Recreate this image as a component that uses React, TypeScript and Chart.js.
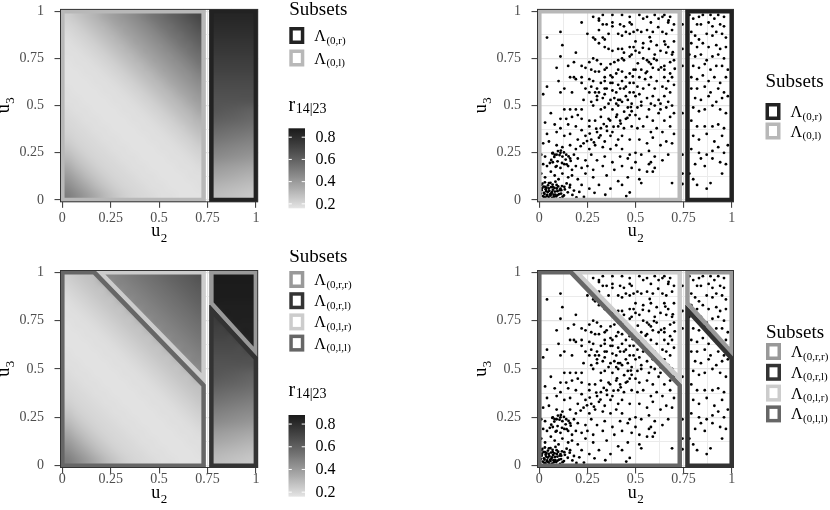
import React, { useEffect, useRef } from 'react';
import { Chart, registerables } from 'chart.js';

Chart.register(...registerables);

const SERIF = "'Liberation Serif', 'Times New Roman', Times, serif";

// ---------- axes ----------
const axisTicks = [0, 0.125, 0.25, 0.375, 0.5, 0.625, 0.75, 0.875, 1];
const axisTickLabels = ['0', '', '0.25', '', '0.5', '', '0.75', '', '1'];
const axisRange = [-0.012, 1.012];

// ---------- heat map r_{14|23} ----------
const leftBlockU2 = [0, 0.735];
const rightBlockU2 = [0.765, 1];
const leftBlockColumns = 15;
const heatRowsU3 = [0, 1];

const rTop: number[][] = [
  [0.23, 0.26, 0.29, 0.32, 0.36, 0.39, 0.42, 0.45, 0.49, 0.53, 0.56, 0.60, 0.63, 0.67, 0.70, 0.83, 0.83, 0.83, 0.83, 0.83],
  [0.21, 0.23, 0.26, 0.29, 0.32, 0.36, 0.39, 0.42, 0.45, 0.49, 0.53, 0.56, 0.60, 0.63, 0.67, 0.81, 0.81, 0.81, 0.81, 0.81],
  [0.19, 0.21, 0.23, 0.26, 0.29, 0.32, 0.36, 0.39, 0.42, 0.45, 0.49, 0.53, 0.56, 0.60, 0.63, 0.79, 0.79, 0.79, 0.79, 0.79],
  [0.18, 0.19, 0.21, 0.23, 0.26, 0.29, 0.32, 0.36, 0.39, 0.42, 0.45, 0.49, 0.53, 0.56, 0.60, 0.77, 0.77, 0.77, 0.77, 0.77],
  [0.18, 0.18, 0.19, 0.21, 0.23, 0.26, 0.29, 0.32, 0.36, 0.39, 0.42, 0.45, 0.49, 0.53, 0.56, 0.75, 0.75, 0.75, 0.75, 0.75],
  [0.17, 0.18, 0.18, 0.19, 0.21, 0.23, 0.26, 0.29, 0.32, 0.36, 0.39, 0.42, 0.45, 0.49, 0.53, 0.73, 0.73, 0.73, 0.73, 0.73],
  [0.17, 0.17, 0.18, 0.18, 0.19, 0.21, 0.23, 0.26, 0.29, 0.32, 0.36, 0.39, 0.42, 0.45, 0.49, 0.71, 0.71, 0.71, 0.71, 0.71],
  [0.17, 0.17, 0.17, 0.18, 0.18, 0.19, 0.21, 0.23, 0.26, 0.29, 0.32, 0.36, 0.39, 0.42, 0.45, 0.69, 0.69, 0.69, 0.69, 0.69],
  [0.18, 0.17, 0.17, 0.17, 0.18, 0.18, 0.19, 0.21, 0.23, 0.26, 0.29, 0.32, 0.36, 0.39, 0.42, 0.67, 0.67, 0.67, 0.67, 0.67],
  [0.18, 0.18, 0.17, 0.17, 0.17, 0.18, 0.18, 0.19, 0.21, 0.23, 0.26, 0.29, 0.32, 0.36, 0.39, 0.65, 0.65, 0.65, 0.65, 0.65],
  [0.19, 0.18, 0.18, 0.17, 0.17, 0.17, 0.18, 0.18, 0.19, 0.21, 0.23, 0.26, 0.29, 0.32, 0.36, 0.64, 0.63, 0.62, 0.61, 0.60],
  [0.20, 0.19, 0.18, 0.18, 0.17, 0.17, 0.17, 0.18, 0.18, 0.19, 0.21, 0.23, 0.26, 0.29, 0.32, 0.61, 0.60, 0.59, 0.58, 0.57],
  [0.21, 0.20, 0.19, 0.18, 0.18, 0.17, 0.17, 0.17, 0.18, 0.18, 0.19, 0.21, 0.23, 0.26, 0.29, 0.57, 0.56, 0.55, 0.54, 0.53],
  [0.23, 0.21, 0.20, 0.19, 0.18, 0.18, 0.17, 0.17, 0.17, 0.18, 0.18, 0.19, 0.21, 0.23, 0.26, 0.53, 0.52, 0.51, 0.50, 0.49],
  [0.26, 0.23, 0.21, 0.20, 0.19, 0.18, 0.18, 0.17, 0.17, 0.17, 0.18, 0.18, 0.19, 0.21, 0.23, 0.49, 0.48, 0.47, 0.46, 0.45],
  [0.30, 0.26, 0.23, 0.21, 0.20, 0.19, 0.18, 0.18, 0.17, 0.17, 0.17, 0.18, 0.18, 0.19, 0.21, 0.45, 0.44, 0.43, 0.42, 0.41],
  [0.35, 0.30, 0.26, 0.23, 0.21, 0.20, 0.19, 0.18, 0.18, 0.17, 0.17, 0.17, 0.18, 0.18, 0.19, 0.40, 0.39, 0.38, 0.37, 0.36],
  [0.40, 0.35, 0.30, 0.26, 0.23, 0.21, 0.20, 0.19, 0.18, 0.18, 0.17, 0.17, 0.17, 0.18, 0.18, 0.36, 0.35, 0.34, 0.33, 0.32],
  [0.45, 0.40, 0.35, 0.30, 0.26, 0.23, 0.21, 0.20, 0.19, 0.18, 0.18, 0.17, 0.17, 0.17, 0.18, 0.32, 0.31, 0.30, 0.29, 0.28],
  [0.50, 0.45, 0.40, 0.35, 0.30, 0.26, 0.23, 0.21, 0.20, 0.19, 0.18, 0.18, 0.17, 0.17, 0.17, 0.29, 0.28, 0.27, 0.26, 0.25],
];

const rBottom: number[][] = [
  [0.23, 0.25, 0.27, 0.29, 0.45, 0.47, 0.49, 0.51, 0.53, 0.55, 0.57, 0.59, 0.61, 0.63, 0.65, 0.88, 0.88, 0.88, 0.88, 0.88],
  [0.21, 0.23, 0.25, 0.27, 0.29, 0.45, 0.47, 0.49, 0.51, 0.53, 0.55, 0.57, 0.59, 0.61, 0.63, 0.87, 0.87, 0.87, 0.87, 0.87],
  [0.19, 0.21, 0.23, 0.25, 0.27, 0.29, 0.45, 0.47, 0.49, 0.51, 0.53, 0.55, 0.57, 0.59, 0.61, 0.87, 0.87, 0.87, 0.87, 0.87],
  [0.18, 0.19, 0.21, 0.23, 0.25, 0.27, 0.29, 0.45, 0.47, 0.49, 0.51, 0.53, 0.55, 0.57, 0.59, 0.86, 0.86, 0.86, 0.86, 0.86],
  [0.18, 0.18, 0.19, 0.21, 0.23, 0.25, 0.27, 0.29, 0.45, 0.47, 0.49, 0.51, 0.53, 0.55, 0.57, 0.75, 0.86, 0.86, 0.86, 0.86],
  [0.17, 0.18, 0.18, 0.19, 0.21, 0.23, 0.25, 0.27, 0.29, 0.45, 0.47, 0.49, 0.51, 0.53, 0.55, 0.73, 0.73, 0.85, 0.85, 0.85],
  [0.17, 0.17, 0.18, 0.18, 0.19, 0.21, 0.23, 0.25, 0.27, 0.29, 0.45, 0.47, 0.49, 0.51, 0.53, 0.71, 0.71, 0.71, 0.85, 0.85],
  [0.17, 0.17, 0.17, 0.18, 0.18, 0.19, 0.21, 0.23, 0.25, 0.27, 0.29, 0.45, 0.47, 0.49, 0.51, 0.69, 0.69, 0.69, 0.69, 0.84],
  [0.18, 0.17, 0.17, 0.17, 0.18, 0.18, 0.19, 0.21, 0.23, 0.25, 0.27, 0.29, 0.45, 0.47, 0.49, 0.67, 0.67, 0.67, 0.67, 0.67],
  [0.18, 0.18, 0.17, 0.17, 0.17, 0.18, 0.18, 0.19, 0.21, 0.23, 0.25, 0.27, 0.29, 0.45, 0.47, 0.65, 0.65, 0.65, 0.65, 0.65],
  [0.19, 0.18, 0.18, 0.17, 0.17, 0.17, 0.18, 0.18, 0.19, 0.21, 0.23, 0.25, 0.27, 0.29, 0.45, 0.64, 0.63, 0.62, 0.61, 0.60],
  [0.20, 0.19, 0.18, 0.18, 0.17, 0.17, 0.17, 0.18, 0.18, 0.19, 0.21, 0.23, 0.25, 0.27, 0.29, 0.61, 0.60, 0.59, 0.58, 0.57],
  [0.21, 0.20, 0.19, 0.18, 0.18, 0.17, 0.17, 0.17, 0.18, 0.18, 0.19, 0.21, 0.23, 0.25, 0.27, 0.57, 0.56, 0.55, 0.54, 0.53],
  [0.23, 0.21, 0.20, 0.19, 0.18, 0.18, 0.17, 0.17, 0.17, 0.18, 0.18, 0.19, 0.21, 0.23, 0.25, 0.53, 0.52, 0.51, 0.50, 0.49],
  [0.26, 0.23, 0.21, 0.20, 0.19, 0.18, 0.18, 0.17, 0.17, 0.17, 0.18, 0.18, 0.19, 0.21, 0.23, 0.49, 0.48, 0.47, 0.46, 0.45],
  [0.30, 0.26, 0.23, 0.21, 0.20, 0.19, 0.18, 0.18, 0.17, 0.17, 0.17, 0.18, 0.18, 0.19, 0.21, 0.45, 0.44, 0.43, 0.42, 0.41],
  [0.35, 0.30, 0.26, 0.23, 0.21, 0.20, 0.19, 0.18, 0.18, 0.17, 0.17, 0.17, 0.18, 0.18, 0.19, 0.40, 0.39, 0.38, 0.37, 0.36],
  [0.40, 0.35, 0.30, 0.26, 0.23, 0.21, 0.20, 0.19, 0.18, 0.18, 0.17, 0.17, 0.17, 0.18, 0.18, 0.36, 0.35, 0.34, 0.33, 0.32],
  [0.45, 0.40, 0.35, 0.30, 0.26, 0.23, 0.21, 0.20, 0.19, 0.18, 0.18, 0.17, 0.17, 0.17, 0.18, 0.32, 0.31, 0.30, 0.29, 0.28],
  [0.50, 0.45, 0.40, 0.35, 0.30, 0.26, 0.23, 0.21, 0.20, 0.19, 0.18, 0.18, 0.17, 0.17, 0.17, 0.29, 0.28, 0.27, 0.26, 0.25],
];

const colourbarLimits = [0.16, 0.88];
const colourbarBreaks = [0.2, 0.4, 0.6, 0.8];
const colourbarLabels = ['0.2', '0.4', '0.6', '0.8'];

// ---------- subsets (polygons in u2/u3 units) ----------
const lambda0r: [number, number][] = [[0.77, 0], [1, 0], [1, 1], [0.77, 1], [0.77, 0]];
const lambda0l: [number, number][] = [[0, 0], [0.73, 0], [0.73, 1], [0, 1], [0, 0]];
const lambda0rr: [number, number][] = [[1, 1], [1, 0.585], [0.77, 0.84], [0.77, 1], [1, 1]];
const lambda0rl: [number, number][] = [[0.77, 0], [1, 0], [1, 0.555], [0.77, 0.805], [0.77, 0]];
const lambda0lr: [number, number][] = [[0.73, 1], [0.73, 0.45], [0.195, 1], [0.73, 1]];
const lambda0ll: [number, number][] = [[0, 0], [0.73, 0], [0.73, 0.415], [0.165, 1], [0, 1], [0, 0]];

const topSubsetLabels = ['(0,r)', '(0,l)'];
const bottomSubsetLabels = ['(0,r,r)', '(0,r,l)', '(0,l,r)', '(0,l,l)'];

// ---------- sample (u2, u3) ----------
const samplePoints: [number, number][] = [
  [0.28, 0.97], [0.31, 0.96], [0.31, 0.95], [0.33, 0.98], [0.33, 0.93], [0.35, 0.93], [0.38, 0.98], [0.38, 0.94],
  [0.43, 0.98], [0.42, 0.93], [0.44, 0.92], [0.47, 0.97], [0.47, 0.94], [0.48, 0.93], [0.22, 0.94], [0.11, 0.89],
  [0.04, 0.86], [0.25, 0.88], [0.28, 0.86], [0.29, 0.85], [0.31, 0.90], [0.33, 0.86], [0.34, 0.85], [0.36, 0.88],
  [0.38, 0.92], [0.41, 0.88], [0.43, 0.87], [0.45, 0.89], [0.47, 0.88], [0.49, 0.89], [0.12, 0.82], [0.31, 0.83],
  [0.34, 0.81], [0.36, 0.80], [0.38, 0.79], [0.41, 0.80], [0.43, 0.80], [0.44, 0.78], [0.47, 0.81], [0.49, 0.81],
  [0.11, 0.76], [0.18, 0.73], [0.26, 0.73], [0.28, 0.75], [0.30, 0.74], [0.32, 0.72], [0.34, 0.69], [0.35, 0.70],
  [0.37, 0.72], [0.39, 0.73], [0.41, 0.74], [0.43, 0.75], [0.44, 0.74], [0.47, 0.76], [0.48, 0.77], [0.09, 0.70],
  [0.15, 0.71], [0.22, 0.71], [0.24, 0.70], [0.27, 0.69], [0.29, 0.68], [0.31, 0.68], [0.34, 0.65], [0.37, 0.66],
  [0.38, 0.65], [0.40, 0.67], [0.41, 0.69], [0.43, 0.68], [0.45, 0.65], [0.47, 0.67], [0.49, 0.69], [0.16, 0.65],
  [0.18, 0.65], [0.19, 0.64], [0.22, 0.65], [0.26, 0.64], [0.28, 0.63], [0.32, 0.62], [0.34, 0.63], [0.37, 0.62],
  [0.38, 0.62], [0.41, 0.61], [0.43, 0.63], [0.45, 0.60], [0.47, 0.62], [0.49, 0.62], [0.10, 0.63], [0.04, 0.60],
  [0.13, 0.59], [0.22, 0.62], [0.24, 0.59], [0.27, 0.60], [0.30, 0.59], [0.29, 0.57], [0.31, 0.57], [0.34, 0.59],
  [0.35, 0.59], [0.38, 0.58], [0.40, 0.57], [0.42, 0.59], [0.44, 0.59], [0.47, 0.57], [0.49, 0.57], [0.02, 0.56],
  [0.11, 0.57], [0.17, 0.57], [0.26, 0.57], [0.30, 0.55], [0.33, 0.54], [0.34, 0.56], [0.37, 0.53], [0.39, 0.54],
  [0.41, 0.53], [0.43, 0.52], [0.46, 0.53], [0.48, 0.51], [0.23, 0.53], [0.27, 0.52], [0.30, 0.53], [0.36, 0.51],
  [0.40, 0.51], [0.42, 0.53], [0.45, 0.55], [0.19, 0.78],
  [0.52, 0.98], [0.54, 0.96], [0.56, 0.97], [0.58, 0.94], [0.60, 0.98], [0.62, 0.96], [0.64, 0.97], [0.65, 0.98],
  [0.67, 0.94], [0.68, 0.97], [0.70, 0.93], [0.51, 0.90], [0.53, 0.89], [0.56, 0.90], [0.59, 0.89], [0.64, 0.89],
  [0.66, 0.88], [0.69, 0.90], [0.50, 0.84], [0.54, 0.83], [0.58, 0.84], [0.61, 0.82], [0.65, 0.84], [0.67, 0.81],
  [0.70, 0.84], [0.50, 0.79], [0.52, 0.78], [0.57, 0.80], [0.60, 0.77], [0.63, 0.79], [0.66, 0.78], [0.69, 0.77],
  [0.54, 0.75], [0.56, 0.74], [0.57, 0.73], [0.58, 0.72], [0.61, 0.74], [0.65, 0.71], [0.68, 0.73], [0.70, 0.74],
  [0.50, 0.69], [0.53, 0.69], [0.56, 0.68], [0.59, 0.70], [0.62, 0.69], [0.65, 0.69], [0.68, 0.67], [0.52, 0.65],
  [0.55, 0.64], [0.58, 0.65], [0.61, 0.63], [0.65, 0.65], [0.67, 0.63], [0.69, 0.65], [0.51, 0.60], [0.54, 0.59],
  [0.57, 0.61], [0.60, 0.59], [0.64, 0.60], [0.66, 0.59], [0.70, 0.61], [0.50, 0.55], [0.52, 0.56], [0.56, 0.54],
  [0.59, 0.55], [0.62, 0.53], [0.65, 0.55], [0.68, 0.57], [0.53, 0.52], [0.58, 0.51], [0.63, 0.51], [0.67, 0.52],
  [0.512, 0.724], [0.538, 0.806], [0.553, 0.672], [0.574, 0.862], [0.596, 0.748], [0.618, 0.915], [0.633, 0.702],
  [0.655, 0.823], [0.672, 0.951], [0.694, 0.783], [0.704, 0.695], [0.486, 0.654],
  [0.78, 0.98], [0.80, 0.96], [0.83, 0.97], [0.85, 0.98], [0.89, 0.98], [0.91, 0.96], [0.93, 0.98], [0.96, 0.97],
  [0.82, 0.93], [0.84, 0.93], [0.88, 0.94], [0.90, 0.92], [0.94, 0.93], [0.96, 0.92], [0.79, 0.89], [0.81, 0.87],
  [0.83, 0.85], [0.87, 0.88], [0.90, 0.87], [0.92, 0.89], [0.95, 0.88], [0.97, 0.86], [0.79, 0.83], [0.82, 0.81],
  [0.85, 0.83], [0.88, 0.81], [0.92, 0.82], [0.94, 0.80], [0.97, 0.81], [0.78, 0.77], [0.81, 0.76], [0.84, 0.77],
  [0.87, 0.74], [0.90, 0.76], [0.93, 0.77], [0.96, 0.75], [0.80, 0.71], [0.83, 0.70], [0.86, 0.72], [0.89, 0.69],
  [0.92, 0.71], [0.95, 0.71], [0.98, 0.69], [0.79, 0.65], [0.82, 0.64], [0.85, 0.66], [0.88, 0.63], [0.91, 0.65],
  [0.94, 0.62], [0.97, 0.65], [0.79, 0.59], [0.82, 0.59], [0.86, 0.60], [0.89, 0.57], [0.93, 0.59], [0.96, 0.57],
  [0.81, 0.54], [0.84, 0.53], [0.88, 0.55], [0.92, 0.52], [0.95, 0.54], [0.98, 0.55],
  [0.13, 0.48], [0.16, 0.48], [0.19, 0.48], [0.22, 0.48], [0.28, 0.50], [0.32, 0.48], [0.34, 0.49], [0.38, 0.48],
  [0.41, 0.50], [0.46, 0.49], [0.48, 0.47], [0.06, 0.46], [0.11, 0.43], [0.14, 0.43], [0.17, 0.44], [0.20, 0.45],
  [0.22, 0.43], [0.26, 0.42], [0.29, 0.42], [0.32, 0.44], [0.36, 0.43], [0.40, 0.44], [0.42, 0.42], [0.45, 0.43],
  [0.47, 0.45], [0.03, 0.41], [0.08, 0.40], [0.11, 0.38], [0.15, 0.40], [0.19, 0.39], [0.22, 0.37], [0.26, 0.39],
  [0.30, 0.36], [0.32, 0.38], [0.35, 0.39], [0.38, 0.36], [0.41, 0.39], [0.44, 0.38], [0.48, 0.39], [0.04, 0.35],
  [0.09, 0.36], [0.13, 0.34], [0.16, 0.35], [0.20, 0.32], [0.24, 0.34], [0.27, 0.32], [0.31, 0.33], [0.34, 0.31],
  [0.37, 0.34], [0.41, 0.32], [0.43, 0.34], [0.47, 0.32], [0.02, 0.30], [0.05, 0.31], [0.09, 0.29], [0.12, 0.28],
  [0.16, 0.29], [0.19, 0.27], [0.23, 0.30], [0.26, 0.27], [0.29, 0.29], [0.33, 0.28], [0.37, 0.27], [0.40, 0.29],
  [0.43, 0.27], [0.47, 0.24], [0.01, 0.24], [0.03, 0.23], [0.07, 0.25], [0.08, 0.24], [0.09, 0.24], [0.11, 0.25],
  [0.12, 0.23], [0.14, 0.24], [0.16, 0.22], [0.18, 0.24], [0.20, 0.22], [0.24, 0.21], [0.27, 0.24], [0.30, 0.21],
  [0.34, 0.23], [0.38, 0.20], [0.42, 0.23], [0.46, 0.22], [0.02, 0.19], [0.04, 0.18], [0.07, 0.20], [0.09, 0.18],
  [0.11, 0.17], [0.13, 0.19], [0.15, 0.18], [0.17, 0.16], [0.19, 0.18], [0.22, 0.17], [0.25, 0.18], [0.28, 0.16],
  [0.33, 0.18], [0.39, 0.16], [0.43, 0.18], [0.48, 0.17], [0.01, 0.14], [0.03, 0.12], [0.06, 0.15], [0.08, 0.13],
  [0.10, 0.11], [0.12, 0.14], [0.15, 0.12], [0.17, 0.13], [0.20, 0.11], [0.24, 0.14], [0.28, 0.12], [0.35, 0.13],
  [0.41, 0.10], [0.46, 0.12], [0.01, 0.08], [0.03, 0.07], [0.05, 0.09], [0.07, 0.07], [0.09, 0.08], [0.11, 0.06],
  [0.13, 0.07], [0.16, 0.08], [0.18, 0.05], [0.22, 0.08], [0.26, 0.06], [0.31, 0.08], [0.37, 0.06], [0.43, 0.08],
  [0.47, 0.04],
  [0.062, 0.212], [0.078, 0.228], [0.095, 0.205], [0.105, 0.238], [0.118, 0.196], [0.128, 0.252], [0.137, 0.214],
  [0.152, 0.231], [0.085, 0.176], [0.068, 0.247], [0.112, 0.262], [0.142, 0.189], [0.163, 0.207], [0.097, 0.259],
  [0.055, 0.196],
  [0.215, 0.285], [0.248, 0.312], [0.262, 0.352], [0.284, 0.305], [0.296, 0.378], [0.318, 0.342], [0.335, 0.402],
  [0.352, 0.366], [0.368, 0.421], [0.386, 0.388], [0.404, 0.452], [0.423, 0.405], [0.441, 0.468], [0.458, 0.435],
  [0.476, 0.492],
  [0.012, 0.052], [0.024, 0.038], [0.033, 0.057], [0.041, 0.027], [0.052, 0.049], [0.063, 0.036], [0.071, 0.055],
  [0.083, 0.029], [0.094, 0.047], [0.103, 0.031], [0.114, 0.052], [0.121, 0.018], [0.148, 0.041], [0.172, 0.027],
  [0.208, 0.043], [0.232, 0.016], [0.287, 0.038], [0.343, 0.028], [0.452, 0.021], [0.018, 0.021], [0.031, 0.012],
  [0.048, 0.017], [0.067, 0.011], [0.088, 0.019], [0.108, 0.009], [0.193, 0.014], [0.037, 0.066], [0.058, 0.024],
  [0.022, 0.071], [0.053, 0.006], [0.079, 0.064], [0.027, 0.032], [0.074, 0.028], [0.008, 0.034], [0.044, 0.042],
  [0.061, 0.068], [0.098, 0.072],
  [0.016, 0.087], [0.029, 0.094], [0.045, 0.078], [0.058, 0.091], [0.069, 0.082], [0.084, 0.097], [0.014, 0.062],
  [0.036, 0.047], [0.049, 0.061], [0.066, 0.043], [0.081, 0.045], [0.091, 0.061], [0.106, 0.052], [0.118, 0.074],
  [0.133, 0.056], [0.142, 0.088], [0.158, 0.067], [0.026, 0.015], [0.039, 0.022], [0.057, 0.031], [0.076, 0.018],
  [0.095, 0.026], [0.113, 0.034], [0.128, 0.024],
  [0.51, 0.49], [0.53, 0.50], [0.57, 0.48], [0.60, 0.50], [0.63, 0.48], [0.66, 0.49], [0.69, 0.50], [0.50, 0.45],
  [0.52, 0.43], [0.56, 0.44], [0.59, 0.42], [0.62, 0.46], [0.65, 0.42], [0.68, 0.44], [0.70, 0.46], [0.51, 0.38],
  [0.54, 0.39], [0.58, 0.36], [0.61, 0.38], [0.64, 0.36], [0.68, 0.39], [0.70, 0.35], [0.52, 0.32], [0.56, 0.30],
  [0.59, 0.33], [0.63, 0.29], [0.66, 0.31], [0.69, 0.30], [0.50, 0.25], [0.53, 0.24], [0.57, 0.26], [0.57, 0.19],
  [0.58, 0.20], [0.60, 0.23], [0.64, 0.21], [0.67, 0.24], [0.52, 0.16], [0.56, 0.15], [0.60, 0.17], [0.52, 0.11],
  [0.53, 0.09], [0.69, 0.09], [0.50, 0.20], [0.59, 0.15],
  [0.80, 0.49], [0.83, 0.47], [0.86, 0.48], [0.90, 0.50], [0.94, 0.48], [0.97, 0.46], [0.79, 0.42], [0.82, 0.39],
  [0.86, 0.39], [0.90, 0.39], [0.93, 0.40], [0.96, 0.38], [0.80, 0.34], [0.83, 0.32], [0.87, 0.35], [0.91, 0.31],
  [0.95, 0.34], [0.98, 0.29], [0.79, 0.27], [0.83, 0.25], [0.87, 0.24], [0.90, 0.26], [0.93, 0.28], [0.96, 0.25],
  [0.81, 0.19], [0.84, 0.22], [0.86, 0.18], [0.90, 0.22], [0.94, 0.20], [0.97, 0.19], [0.78, 0.14], [0.80, 0.11],
  [0.82, 0.08], [0.87, 0.06], [0.89, 0.09], [0.95, 0.14],
  [0.744, 0.93], [0.744, 0.80], [0.744, 0.71], [0.744, 0.46], [0.744, 0.24], [0.744, 0.14], [0.744, 0.085],
];

// ---------- styles ----------
const COL_R = '#222222';
const COL_L = '#b8b8b8';
const COL_RR = '#999999';
const COL_RL = '#333333';
const COL_LR = '#cccccc';
const COL_LL = '#666666';

function hexLightness(hex: string) {
  const g = parseInt(hex.slice(1, 3), 16) / 255;
  const lin = g <= 0.04045 ? g / 12.92 : Math.pow((g + 0.055) / 1.055, 2.4);
  return lin > 0.008856 ? 116 * Math.cbrt(lin) - 16 : 903.3 * lin;
}
const L_LOW = hexLightness('#e5e5e5');
const L_HIGH = hexLightness('#1a1a1a');

function grayFor(v: number) {
  const t = Math.max(0, Math.min(1, (v - colourbarLimits[0]) / (colourbarLimits[1] - colourbarLimits[0])));
  const L = L_LOW + (L_HIGH - L_LOW) * t;
  const Y = L > 8 ? Math.pow((L + 16) / 116, 3) : L / 903.3;
  const s = Y <= 0.0031308 ? 12.92 * Y : 1.055 * Math.pow(Y, 1 / 2.4) - 0.055;
  return Math.round(Math.max(0, Math.min(1, s)) * 255);
}
function fillFor(v: number) {
  const g = grayFor(v);
  return `rgb(${g},${g},${g})`;
}

function drawSub(ctx: CanvasRenderingContext2D, x: number, y: number, main: string, sub: string,
  mainSize: number, subSize: number, dy: number, color: string) {
  ctx.fillStyle = color;
  ctx.textAlign = 'left';
  ctx.textBaseline = 'alphabetic';
  ctx.font = `${mainSize}px ${SERIF}`;
  ctx.fillText(main, x, y);
  const w = ctx.measureText(main).width;
  ctx.font = `${subSize}px ${SERIF}`;
  ctx.fillText(sub, x + w + 0.5, y + dy);
}

type SubsetLegend = { x: number; titleY: number; keyTop: number; keyStep: number; labels: string[]; colors: string[] };
type BarLegend = { x: number; titleY: number; barTop: number; barBottom: number };

type PanelCfg = {
  left: number; top: number; width: number; height: number;
  padding: { left: number; right: number; top: number; bottom: number };
  xLabelPad: number; xTitleOffset: number;
  heat?: number[][];
  points?: boolean;
  polys: { pts: [number, number][]; color: string }[];
  legend: SubsetLegend;
  bar?: BarLegend;
};

const KEY_W = 15;
const KEY_H = 17;

function drawSubsetLegend(ctx: CanvasRenderingContext2D, ox: number, oy: number, lg: SubsetLegend) {
  ctx.save();
  ctx.fillStyle = '#000';
  ctx.font = `19px ${SERIF}`;
  ctx.textAlign = 'left';
  ctx.textBaseline = 'alphabetic';
  ctx.fillText('Subsets', lg.x - ox, lg.titleY - oy);
  lg.labels.forEach((lab, i) => {
    const x = lg.x - ox;
    const y = lg.keyTop + i * lg.keyStep - oy;
    ctx.fillStyle = '#ffffff';
    ctx.fillRect(x, y, KEY_W, KEY_H);
    ctx.strokeStyle = lg.colors[i];
    ctx.lineWidth = 3.5;
    ctx.strokeRect(x + 1.75, y + 1.75, KEY_W - 3.5, KEY_H - 3.5);
    drawSub(ctx, x + 25, y + KEY_H / 2 + 5.5, '\u039B', lab, 16, 11, 2.5, '#000');
  });
  ctx.restore();
}

function drawBarLegend(ctx: CanvasRenderingContext2D, ox: number, oy: number, lg: BarLegend) {
  ctx.save();
  drawSub(ctx, lg.x - ox, lg.titleY - oy, 'r', '14|23', 20, 14, 2, '#000');
  const x = lg.x - ox;
  const top = lg.barTop - oy;
  const bot = lg.barBottom - oy;
  const w = 16.5;
  const [lo, hi] = colourbarLimits;
  const grad = ctx.createLinearGradient(0, bot, 0, top);
  for (let i = 0; i <= 20; i++) {
    const v = lo + (hi - lo) * (i / 20);
    grad.addColorStop(i / 20, fillFor(v));
  }
  ctx.fillStyle = grad;
  ctx.fillRect(x, top, w, bot - top);
  colourbarBreaks.forEach((b, i) => {
    const y = bot - ((b - lo) / (hi - lo)) * (bot - top);
    ctx.strokeStyle = '#ffffff';
    ctx.lineWidth = 1;
    ctx.beginPath();
    ctx.moveTo(x, y); ctx.lineTo(x + 3.3, y);
    ctx.moveTo(x + w - 3.3, y); ctx.lineTo(x + w, y);
    ctx.stroke();
    ctx.fillStyle = '#000';
    ctx.font = `16px ${SERIF}`;
    ctx.textBaseline = 'middle';
    ctx.textAlign = 'left';
    ctx.fillText(colourbarLabels[i], x + 27, y + 0.5);
  });
  ctx.restore();
}

// each subset block of the r-grid is painted as one raster placed through the scales
function drawHeat(chart: any, grid: number[][]) {
  const { ctx, chartArea, scales } = chart;
  const xs = scales.x;
  const ys = scales.y;
  ctx.save();
  ctx.beginPath();
  ctx.rect(chartArea.left, chartArea.top, chartArea.right - chartArea.left, chartArea.bottom - chartArea.top);
  ctx.clip();
  const nCols = grid[0].length;
  const blocks = [
    { c0: 0, c1: leftBlockColumns, ext: leftBlockU2 },
    { c0: leftBlockColumns, c1: nCols, ext: rightBlockU2 },
  ];
  const yTop = ys.getPixelForValue(heatRowsU3[1]);
  const yBot = ys.getPixelForValue(heatRowsU3[0]);
  blocks.forEach((b) => {
    const w = b.c1 - b.c0;
    const h = grid.length;
    const off = document.createElement('canvas');
    off.width = w;
    off.height = h;
    const octx = off.getContext('2d')!;
    const img = octx.createImageData(w, h);
    for (let r = 0; r < h; r++) {
      for (let c = 0; c < w; c++) {
        const g = grayFor(grid[r][b.c0 + c]);
        const k = (r * w + c) * 4;
        img.data[k] = g; img.data[k + 1] = g; img.data[k + 2] = g; img.data[k + 3] = 255;
      }
    }
    octx.putImageData(img, 0, 0);
    const x0 = xs.getPixelForValue(b.ext[0]);
    const x1 = xs.getPixelForValue(b.ext[1]);
    ctx.imageSmoothingEnabled = true;
    ctx.imageSmoothingQuality = 'high';
    ctx.drawImage(off, x0, yTop, x1 - x0, yBot - yTop);
  });
  ctx.restore();
}

function drawTitle(ctx: CanvasRenderingContext2D, cx: number, baseline: number, sub: string) {
  ctx.font = `18px ${SERIF}`;
  const wm = ctx.measureText('u').width;
  ctx.font = `13px ${SERIF}`;
  const ws = ctx.measureText(sub).width;
  drawSub(ctx, cx - (wm + ws) / 2, baseline, 'u', sub, 18, 13, 5.5, '#000');
}

function labelFor(v: number) {
  const i = axisTicks.findIndex((t) => Math.abs(t - v) < 1e-6);
  return i >= 0 ? axisTickLabels[i] : '';
}
function isMajor(v: number) {
  return labelFor(v) !== '';
}

function makeScale(axis: 'x' | 'y', labelPad: number) {
  return {
    type: 'linear' as const,
    min: axisRange[0],
    max: axisRange[1],
    afterBuildTicks: (s: any) => { s.ticks = axisTicks.map((v) => ({ value: v })); },
    afterFit: (s: any) => { if (axis === 'x') s.height = 25; else s.width = 60; },
    ticks: {
      autoSkip: false,
      maxRotation: 0,
      minRotation: 0,
      padding: labelPad,
      color: '#4d4d4d',
      font: { family: SERIF, size: 14 },
      callback: (v: any) => labelFor(Number(v)),
    },
    grid: {
      color: (c: any) => (c.tick && isMajor(c.tick.value) ? '#e3e3e3' : '#ebebeb'),
      lineWidth: (c: any) => (c.tick && isMajor(c.tick.value) ? 1.2 : 1),
      tickColor: (c: any) => (c.tick && isMajor(c.tick.value) ? '#333333' : 'rgba(0,0,0,0)'),
      tickLength: 5.5,
      tickWidth: 1,
      drawTicks: true,
    },
    border: { display: false },
  };
}

function Panel({ cfg }: { cfg: PanelCfg }) {
  const ref = useRef<HTMLCanvasElement | null>(null);
  useEffect(() => {
    if (!ref.current) return;
    const datasets: any[] = [];
    cfg.polys.forEach((p) => {
      datasets.push({
        data: p.pts.map(([x, y]) => ({ x, y })),
        showLine: true,
        borderColor: p.color,
        borderWidth: 4.5,
        borderJoinStyle: 'miter',
        borderCapStyle: 'square',
        pointRadius: 0,
        fill: false,
        tension: 0,
        order: 0,
      });
    });
    if (cfg.points) {
      datasets.push({
        data: samplePoints.map(([x, y]) => ({ x, y })),
        pointRadius: 1.4,
        pointBackgroundColor: '#000000',
        pointBorderWidth: 0,
        showLine: false,
        order: 1,
      });
    }
    const plugin = {
      id: 'panelDecor',
      beforeDatasetsDraw(chart: any) {
        if (cfg.heat) drawHeat(chart, cfg.heat);
      },
      afterDatasetsDraw(chart: any) {
        const { ctx, chartArea: a } = chart;
        ctx.save();
        ctx.strokeStyle = '#333333';
        ctx.lineWidth = 1;
        ctx.strokeRect(a.left + 0.5, a.top + 0.5, a.right - a.left - 1, a.bottom - a.top - 1);
        ctx.restore();
      },
      afterDraw(chart: any) {
        const { ctx, chartArea: a } = chart;
        ctx.save();
        drawTitle(ctx, (a.left + a.right) / 2, a.bottom + cfg.xTitleOffset, '2');
        ctx.translate(a.left - 51.5, (a.top + a.bottom) / 2);
        ctx.rotate(-Math.PI / 2);
        drawTitle(ctx, 0, 0, '3');
        ctx.restore();
        drawSubsetLegend(ctx, cfg.left, cfg.top, cfg.legend);
        if (cfg.bar) drawBarLegend(ctx, cfg.left, cfg.top, cfg.bar);
      },
    };
    const chart = new Chart(ref.current, {
      type: 'scatter',
      data: { datasets },
      options: {
        responsive: false,
        animation: false,
        devicePixelRatio: 1,
        events: [],
        layout: { padding: cfg.padding },
        plugins: { legend: { display: false }, tooltip: { enabled: false }, title: { display: false } },
        scales: { x: makeScale('x', cfg.xLabelPad), y: makeScale('y', 10.5) },
      } as any,
      plugins: [plugin],
    });
    return () => chart.destroy();
  }, [cfg]);
  return (
    <canvas
      ref={ref}
      width={cfg.width}
      height={cfg.height}
      style={{ position: 'absolute', left: cfg.left, top: cfg.top, width: cfg.width, height: cfg.height }}
    />
  );
}

const topPolys = [
  { pts: lambda0l, color: COL_L },
  { pts: lambda0r, color: COL_R },
];
const bottomPolys = [
  { pts: lambda0ll, color: COL_LL },
  { pts: lambda0lr, color: COL_LR },
  { pts: lambda0rl, color: COL_RL },
  { pts: lambda0rr, color: COL_RR },
];

const panels: PanelCfg[] = [
  {
    left: 0, top: -10, width: 415, height: 260,
    padding: { left: 0, right: 156.8, top: 13.9, bottom: 22.7 },
    xLabelPad: 2.2, xTitleOffset: 33.7,
    heat: rTop, polys: topPolys,
    legend: { x: 289.3, titleY: 14.5, keyTop: 27, keyStep: 22.5, labels: topSubsetLabels, colors: [COL_R, COL_L] },
    bar: { x: 288.5, titleY: 111, barTop: 128.3, barBottom: 208.3 },
  },
  {
    left: 415, top: -10, width: 415, height: 260,
    padding: { left: 62, right: 96, top: 13.9, bottom: 22.7 },
    xLabelPad: 2.2, xTitleOffset: 33.7,
    points: true, polys: topPolys,
    legend: { x: 765.5, titleY: 86.5, keyTop: 103, keyStep: 19.5, labels: topSubsetLabels, colors: [COL_R, COL_L] },
  },
  {
    left: 0, top: 250, width: 415, height: 260,
    padding: { left: 0, right: 156.8, top: 20, bottom: 17 },
    xLabelPad: -2.5, xTitleOffset: 29.5,
    heat: rBottom, polys: bottomPolys,
    legend: { x: 289.3, titleY: 261.5, keyTop: 271, keyStep: 21.2, labels: bottomSubsetLabels, colors: [COL_RR, COL_RL, COL_LR, COL_LL] },
    bar: { x: 288.5, titleY: 395.5, barTop: 415, barBottom: 496.7 },
  },
  {
    left: 415, top: 250, width: 415, height: 260,
    padding: { left: 62, right: 96, top: 20, bottom: 17 },
    xLabelPad: -2.5, xTitleOffset: 29.5,
    points: true, polys: bottomPolys,
    legend: { x: 766, titleY: 337.5, keyTop: 343, keyStep: 20.8, labels: bottomSubsetLabels, colors: [COL_RR, COL_RL, COL_LR, COL_LL] },
  },
];

export default function App() {
  return (
    <div style={{ position: 'fixed', left: 0, top: 0, width: 830, height: 510, background: '#ffffff', overflow: 'hidden' }}>
      {panels.map((p, i) => (
        <Panel key={i} cfg={p} />
      ))}
    </div>
  );
}
